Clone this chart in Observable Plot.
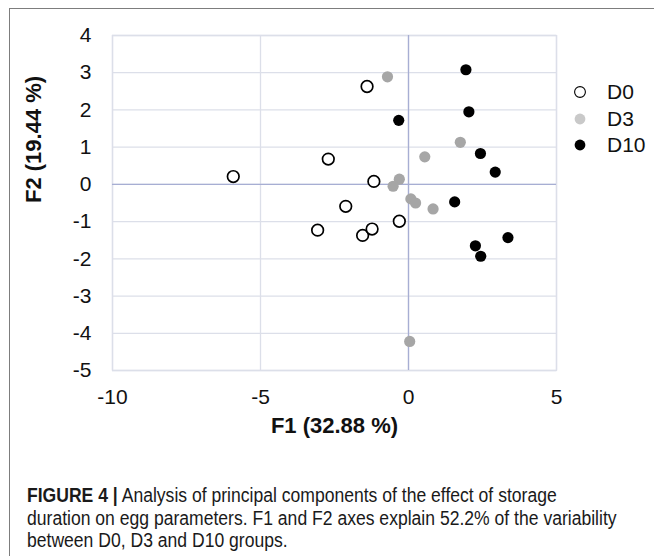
<!DOCTYPE html>
<html>
<head>
<meta charset="utf-8">
<script src="https://cdn.jsdelivr.net/npm/d3@7"></script>
<script src="https://cdn.jsdelivr.net/npm/@observablehq/plot@0.6"></script>
<style>
html, body { margin: 0; padding: 0; background: #fff; }
#fig { position: relative; width: 654px; height: 556px; overflow: hidden; font-family: "Liberation Sans", Arial, sans-serif; }
#frame { position: absolute; left: 9px; top: 8px; width: 660px; height: 560px; border-top: 1.5px solid #7d7d7d; border-left: 1.5px solid #7d7d7d; box-sizing: border-box; }
#chart { position: absolute; left: 0; top: 0; }
#legend { position: absolute; left: 572px; top: 79px; font-size: 21px; color: #111; }
#legend .item { height: 26.5px; display: flex; align-items: center; }
#legend svg { margin-right: 19px; }
#caption { position: absolute; left: 27px; top: 484px; font-family: "Liberation Sans", Arial, sans-serif; font-size: 20px; line-height: 22.5px; color: #1a1a1a; white-space: nowrap; transform-origin: 0 0; }
#caption b { font-weight: bold; }
</style>
</head>
<body>
<div id="fig">
  <div id="frame"></div>
  <div id="chart"></div>
  <div id="legend"></div>
  <div id="caption"></div>
</div>
<script>
// ---- data ----
const groups = ["D0", "D3", "D10"];
const d0X  = [-1.40, -2.71, -5.92, -1.17, -2.12, -3.07, -1.55, -1.23, -0.31];
const d0Y  = [ 2.63,  0.68,  0.21,  0.08, -0.59, -1.23, -1.37, -1.20, -0.99];
const d3X  = [-0.71,  0.55, -0.31, -0.52,  0.08,  0.24,  0.83,  0.04,  1.75];
const d3Y  = [ 2.89,  0.74,  0.14, -0.05, -0.39, -0.50, -0.66, -4.22,  1.13];
const d10X = [ 1.94,  2.04, -0.33,  2.43,  2.93,  1.56,  3.36,  2.26,  2.44];
const d10Y = [ 3.08,  1.95,  1.72,  0.83,  0.33, -0.47, -1.43, -1.65, -1.93];
const xTicks = [-10, -5, 0, 5];
const yTicks = [-5, -4, -3, -2, -1, 0, 1, 2, 3, 4];
const xLabel = "F1 (32.88 %)";
const yLabel = "F2 (19.44 %)";
const captionBold = "FIGURE 4 |";
const captionLines = [
  " Analysis of principal components of the effect of storage",
  "duration on egg parameters. F1 and F2 axes explain 52.2% of the variability",
  "between D0, D3 and D10 groups."
];

const toRows = (xs, ys, g) => xs.map((x, i) => ({x, y: ys[i], group: g}));
const rowsD0 = toRows(d0X, d0Y, "D0");
const rowsD3 = toRows(d3X, d3Y, "D3");
const rowsD10 = toRows(d10X, d10Y, "D10");

const gridColor = "#dcdfe9";
const zeroColor = "#a7aed3";
const fmt = d => String(d).replace("\u2212", "-");

const chart = Plot.plot({
  width: 654,
  height: 470,
  marginLeft: 112,
  marginRight: 98,
  marginTop: 35,
  marginBottom: 100,
  x: {domain: [-10, 5]},
  y: {domain: [-5, 4]},
  style: {fontFamily: "'Liberation Sans', Arial, sans-serif", fontSize: "21px", color: "#111", background: "transparent", overflow: "visible"},
  marks: [
    Plot.gridX(xTicks, {stroke: gridColor, strokeOpacity: 1, strokeWidth: 1.3}),
    Plot.gridY(yTicks, {stroke: gridColor, strokeOpacity: 1, strokeWidth: 1.3}),
    Plot.frame({stroke: gridColor, strokeWidth: 1.3}),
    Plot.ruleX([0], {stroke: zeroColor, strokeWidth: 1.3}),
    Plot.ruleY([0], {stroke: zeroColor, strokeWidth: 1.3}),
    Plot.axisX(xTicks, {tickSize: 0, tickPadding: 19, label: null, tickFormat: fmt}),
    Plot.axisY(yTicks, {tickSize: 0, tickPadding: 21, label: null, tickFormat: fmt}),
    Plot.text([xLabel], {frameAnchor: "bottom", dy: 62, fontWeight: "bold", fontSize: 22, text: d => d}),
    Plot.text([yLabel], {frameAnchor: "left", rotate: -90, dx: -79, fontWeight: "bold", fontSize: 22, text: d => d}),
    Plot.dot(rowsD3, {x: "x", y: "y", r: 5.6, fill: "#a6a6a6", stroke: "none"}),
    Plot.dot(rowsD10, {x: "x", y: "y", r: 5.6, fill: "#000", stroke: "none"}),
    Plot.dot(rowsD0, {x: "x", y: "y", r: 5.8, fill: "#fff", stroke: "#000", strokeWidth: 1.7})
  ]
});
document.getElementById("chart").appendChild(chart);

// ---- legend ----
const legendStyle = {
  D0: {fill: "#fff", stroke: "#000", sw: 1.1},
  D3: {fill: "#c9c9c9", stroke: "none", sw: 0},
  D10: {fill: "#000", stroke: "none", sw: 0}
};
const legend = d3.select("#legend");
groups.forEach(g => {
  const item = legend.append("div").attr("class", "item");
  const s = item.append("svg").attr("width", 16).attr("height", 16);
  s.append("circle").attr("cx", 8).attr("cy", 8).attr("r", 5.4)
    .attr("fill", legendStyle[g].fill).attr("stroke", legendStyle[g].stroke).attr("stroke-width", legendStyle[g].sw);
  item.append("span").text(g);
});

// ---- caption (condensed to match the narrow face of the reference) ----
const cap = d3.select("#caption");
captionLines.forEach((line, i) => {
  const div = cap.append("div");
  if (i === 0) div.append("b").text(captionBold);
  div.append("span").text(line);
});
const capNode = document.getElementById("caption");
const natural = capNode.scrollWidth;
const targetWidth = 590;
capNode.style.transform = `scaleX(${Math.min(1, targetWidth / natural)})`;
</script>
</body>
</html>
